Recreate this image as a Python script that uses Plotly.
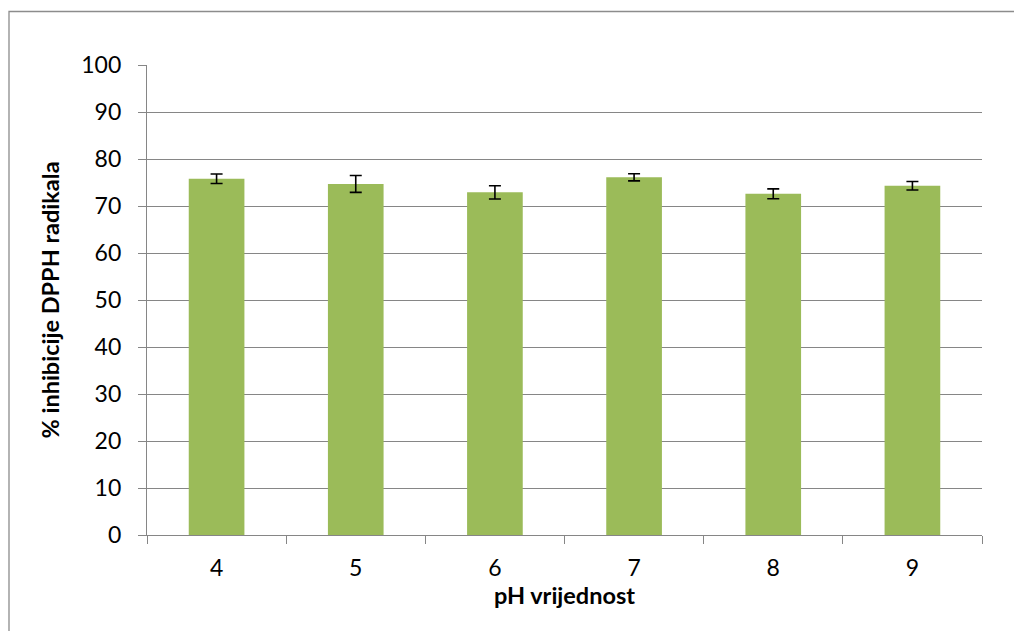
import plotly.graph_objects as go

categories = ["4", "5", "6", "7", "8", "9"]
values = [75.8, 74.7, 72.9, 76.1, 72.6, 74.3]
errors = [1.0, 1.8, 1.4, 0.75, 1.05, 0.9]
y_ticks = [0, 10, 20, 30, 40, 50, 60, 70, 80, 90, 100]

# page body has an 8px offset; size the figure so the plot lands in place
OFF = 8
W, H = 1022 - 2 * OFF, 639 - 2 * OFF
L, T = 147 - OFF, 65 - OFF
R = W - (982 - OFF)
B = H - (535 - OFF)
pw, ph = W - L - R, H - T - B

fig = go.Figure(go.Bar(
    x=categories, y=values,
    marker=dict(color="#9BBB59", line=dict(width=0)),
    error_y=dict(type="data", array=errors, visible=True,
                 color="black", thickness=1.6, width=6),
))

font = "Lato, 'Open Sans', sans-serif"
fig.update_layout(
    width=W, height=H,
    margin=dict(l=L, r=R, t=T, b=B),
    paper_bgcolor="white", plot_bgcolor="white",
    bargap=0.6,
    showlegend=False,
    font=dict(family=font, size=23, color="black"),
    xaxis=dict(
        type="category", tickson="boundaries", ticks="outside",
        ticklen=8, tickcolor="#868686", tickwidth=1.3,
        showline=True, linecolor="#868686", linewidth=1.3,
        showgrid=False,
        tickfont=dict(size=23), ticklabelstandoff=12,
        title=dict(text="<b>pH vrijednost</b>", font=dict(size=23.5), standoff=7),
    ),
    yaxis=dict(
        range=[0, 100], tickvals=y_ticks, ticks="outside",
        ticklen=8, tickcolor="#868686", tickwidth=1.3,
        showline=True, linecolor="#868686", linewidth=1.3,
        showgrid=True, gridcolor="#868686", gridwidth=1.3,
        zeroline=False,
        tickfont=dict(size=23), ticklabelstandoff=12,
        title=dict(text="<b>% inhibicije DPPH radikala</b>", font=dict(size=23.5), standoff=14),
    ),
    shapes=[dict(
        type="rect", xref="paper", yref="paper",
        x0=(1 - L) / pw, x1=(W + 30 - L) / pw,
        y0=-(B + 30) / ph, y1=(H - B - 3.5) / ph,
        line=dict(color="#8C8C8C", width=1.3), fillcolor="rgba(0,0,0,0)",
        layer="below",
    )],
)

fig.write_html("out.html")
